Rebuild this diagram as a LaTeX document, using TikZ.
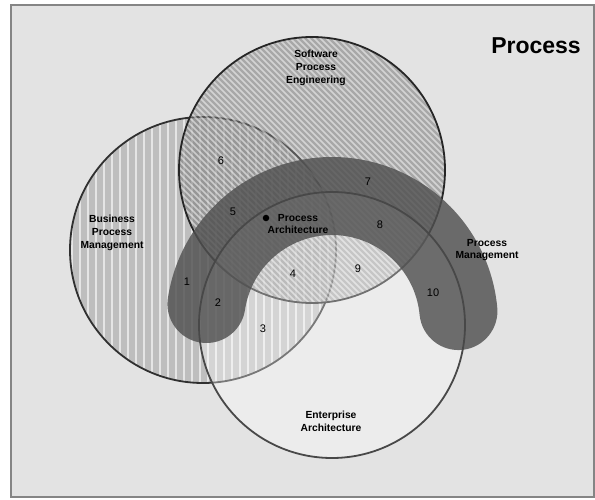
\documentclass[tikz,border=0pt]{standalone}
\usepackage{fontspec}
\setmainfont{Liberation Sans}
\definecolor{bgC}{HTML}{E3E3E3}
\definecolor{frameC}{HTML}{858585}
\definecolor{bpmC}{HTML}{BEBEBE}
\definecolor{speC}{HTML}{787878}
\definecolor{pmC}{HTML}{505050}
\definecolor{lineC}{HTML}{303030}
\definecolor{eaLine}{HTML}{484848}
\begin{document}
\begin{tikzpicture}[x=1pt,y=-1pt,
  lbl/.style={font=\bfseries\fontsize{10.3}{12.8}\selectfont, align=center, inner sep=0pt},
  num/.style={font=\fontsize{11}{13}\selectfont, inner sep=0pt},
  outline/.style={draw=lineC, line width=1.8pt}]
\useasboundingbox (0,0) rectangle (595,500);
\fill[white] (0,0) rectangle (595,500);
\draw[line width=2.2pt, draw=frameC, fill=bgC] (11,5) rectangle (594,497);

\coordinate (bpm) at (203,250);
\coordinate (spe) at (312,170);
\coordinate (ea) at (332,325);

% Business Process Management: vertical stripes
\begin{scope}
  \clip (bpm) circle[radius=133];
  \fill[bpmC] (bpm) circle[radius=133];
  \foreach \x in {72,80,...,336} \draw[white, opacity=0.6, line width=1.2pt] (\x,110) -- (\x,390);
\end{scope}
\draw[outline] (bpm) circle[radius=133];

% Software Process Engineering: diagonal stripes
\begin{scope}
  \clip (spe) circle[radius=133];
  \fill[speC, opacity=0.55] (spe) circle[radius=133];
  \foreach \c in {-132,-126,...,414} \draw[white, opacity=0.5, line width=1.6pt] (\c,30) -- (\c+280,310);
\end{scope}
\draw[outline, draw=black!85] (spe) circle[radius=133];

% Enterprise Architecture: light overlay
\fill[white, opacity=0.35] (ea) circle[radius=133];

% Process Management arch
\draw[pmC, opacity=0.82, line width=78pt, line cap=round]
  plot[domain=188.6:354.6, samples=90] ({332+127*cos(\x)},{323+127*sin(\x)});

\draw[draw=eaLine, line width=1.8pt] (ea) circle[radius=133];

% labels
\node[lbl] (spel) at (316,68) {Software\\Process\\Engineering};
\node[lbl] (bpml) at (112,233) {Business\\Process\\Management};
\node[lbl] (pml) at (487,250) {Process\\Management};
\node[lbl] (eal) at (331,421) {Enterprise\\Architecture};
\node[lbl] (pal) at (298,224) {Process\\Architecture};
\node[circle, fill=black, inner sep=0pt, minimum size=6.5pt] (dot) at (266,218) {};
\node[font=\bfseries\fontsize{23}{26}\selectfont, inner sep=0pt] (title) at (536,46) {Process};

\node[num] (n1) at (187,282) {1};
\node[num] (n2) at (218,303) {2};
\node[num] (n3) at (263,329) {3};
\node[num] (n4) at (293,274) {4};
\node[num] (n5) at (233,212) {5};
\node[num] (n6) at (221,161) {6};
\node[num] (n7) at (368,182) {7};
\node[num] (n8) at (380,225) {8};
\node[num] (n9) at (358,269) {9};
\node[num] (n10) at (433,293) {10};
\end{tikzpicture}
\end{document}
